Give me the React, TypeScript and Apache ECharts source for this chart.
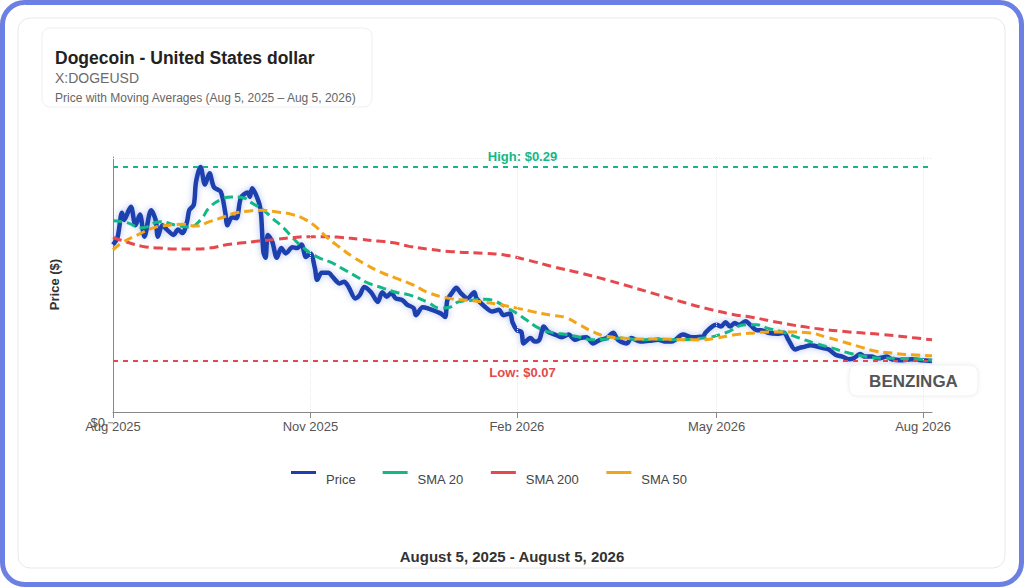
import { useEffect, useRef } from "react"
import * as echarts from "echarts"

const FONT = "'Liberation Sans', Arial, Helvetica, sans-serif"
const DAY = 86400000
const START = Date.UTC(2025, 7, 5)
const END = Date.UTC(2026, 7, 5)

// [days since Aug 5, 2025, USD]
const price: [number, number][] = [
  [0, 0.202], [2, 0.21], [4, 0.238], [5, 0.23], [7, 0.241], [8, 0.245], [10, 0.224], [12, 0.236],
  [14, 0.211], [17, 0.241], [19, 0.23], [20, 0.211], [22, 0.224], [24, 0.219], [27, 0.213], [29, 0.219],
  [31, 0.215], [33, 0.228], [34, 0.241], [36, 0.247], [37, 0.273], [39, 0.29], [41, 0.27], [43, 0.283],
  [45, 0.267], [48, 0.262], [50, 0.239], [51, 0.224], [53, 0.233], [55, 0.232], [57, 0.255], [60, 0.261],
  [61, 0.256], [62, 0.266], [65, 0.25], [66, 0.236], [67, 0.194], [68, 0.187], [69, 0.213], [71, 0.205],
  [73, 0.187], [75, 0.198], [77, 0.192], [80, 0.199], [82, 0.198], [84, 0.202], [86, 0.188], [88, 0.192],
  [90, 0.175], [91, 0.162], [93, 0.17], [96, 0.17], [98, 0.165], [101, 0.158], [103, 0.16], [105, 0.154],
  [108, 0.141], [110, 0.145], [112, 0.154], [115, 0.148], [118, 0.137], [120, 0.148], [122, 0.143], [124, 0.147],
  [126, 0.141], [129, 0.139], [131, 0.134], [134, 0.13], [135, 0.122], [138, 0.131], [140, 0.13], [146, 0.124],
  [148, 0.12], [149, 0.139], [151, 0.147], [153, 0.153], [155, 0.147], [158, 0.141], [161, 0.148], [162, 0.141],
  [166, 0.131], [169, 0.126], [172, 0.128], [174, 0.122], [177, 0.124], [178, 0.114], [180, 0.105], [182, 0.103],
  [183, 0.09], [186, 0.096], [188, 0.092], [190, 0.094], [192, 0.109], [194, 0.103], [197, 0.1], [200, 0.097],
  [203, 0.1], [206, 0.094], [208, 0.096], [211, 0.097], [214, 0.09], [217, 0.094], [220, 0.096], [223, 0.102],
  [225, 0.094], [229, 0.09], [231, 0.096], [235, 0.092], [239, 0.093], [243, 0.094], [246, 0.092], [249, 0.092],
  [254, 0.1], [258, 0.097], [263, 0.098], [264, 0.102], [267, 0.109], [269, 0.111], [271, 0.109], [273, 0.114],
  [275, 0.109], [277, 0.113], [279, 0.111], [282, 0.115], [284, 0.111], [287, 0.105], [289, 0.105], [292, 0.102],
  [296, 0.101], [299, 0.102], [301, 0.094], [304, 0.083], [306, 0.085], [308, 0.086], [311, 0.088], [313, 0.087],
  [316, 0.085], [319, 0.083], [322, 0.077], [325, 0.075], [328, 0.072], [330, 0.073], [333, 0.078], [335, 0.075],
  [338, 0.075], [341, 0.073], [345, 0.075], [347, 0.072], [352, 0.071], [356, 0.072], [360, 0.071], [365, 0.07],
]

const sma20: [number, number][] = [
  [0, 0.229], [6, 0.227], [13, 0.221], [21, 0.228], [28, 0.224], [34, 0.222], [39, 0.23], [43, 0.244],
  [48, 0.253], [53, 0.256], [58, 0.255], [62, 0.249], [67, 0.241], [71, 0.232], [76, 0.221], [80, 0.21],
  [85, 0.198], [91, 0.188], [97, 0.182], [102, 0.175], [109, 0.165], [114, 0.158], [120, 0.153], [126, 0.148],
  [132, 0.145], [140, 0.137], [146, 0.13], [150, 0.131], [154, 0.137], [160, 0.139], [166, 0.14], [171, 0.137],
  [175, 0.131], [180, 0.124], [184, 0.117], [190, 0.107], [196, 0.102], [202, 0.1], [208, 0.097], [214, 0.094],
  [220, 0.095], [227, 0.096], [235, 0.094], [242, 0.095], [249, 0.094], [263, 0.096], [273, 0.102], [282, 0.111],
  [287, 0.111], [292, 0.107], [298, 0.103], [306, 0.096], [313, 0.09], [320, 0.085], [328, 0.079], [336, 0.075],
  [343, 0.073], [350, 0.073], [358, 0.072], [365, 0.071],
]

const sma50: [number, number][] = [
  [0, 0.196], [4, 0.204], [11, 0.213], [18, 0.221], [25, 0.224], [31, 0.225], [37, 0.223], [43, 0.228],
  [49, 0.233], [55, 0.238], [61, 0.24], [65, 0.241], [73, 0.239], [80, 0.236], [86, 0.23], [91, 0.221],
  [95, 0.211], [101, 0.199], [107, 0.188], [113, 0.179], [119, 0.171], [126, 0.164], [134, 0.156], [140, 0.148],
  [150, 0.141], [158, 0.139], [165, 0.137], [172, 0.134], [180, 0.13], [187, 0.126], [195, 0.122], [202, 0.119],
  [208, 0.111], [214, 0.103], [220, 0.098], [227, 0.096], [235, 0.095], [242, 0.095], [261, 0.094], [269, 0.096],
  [278, 0.1], [287, 0.102], [292, 0.103], [301, 0.103], [310, 0.102], [318, 0.097], [325, 0.092], [333, 0.086],
  [340, 0.081], [347, 0.079], [356, 0.077], [365, 0.076],
]

const sma200: [number, number][] = [
  [0, 0.21], [6, 0.205], [13, 0.2], [21, 0.198], [28, 0.197], [36, 0.197], [43, 0.198], [51, 0.202],
  [58, 0.204], [65, 0.206], [73, 0.208], [80, 0.21], [88, 0.211], [95, 0.211], [102, 0.21], [110, 0.208],
  [118, 0.206], [125, 0.204], [132, 0.2], [140, 0.197], [151, 0.194], [166, 0.192], [175, 0.19], [184, 0.185],
  [196, 0.177], [208, 0.17], [220, 0.162], [231, 0.154], [243, 0.145], [255, 0.136], [267, 0.128], [278, 0.122],
  [284, 0.12], [298, 0.113], [313, 0.107], [328, 0.103], [343, 0.1], [358, 0.096], [365, 0.094],
]

const tickDates = ["2025-08-05", "2025-11-01", "2026-02-01", "2026-05-01", "2026-08-01"]
const MONTHS = ["Jan", "Feb", "Mar", "Apr", "May", "Jun", "Jul", "Aug", "Sep", "Oct", "Nov", "Dec"]
const legendNames = ["Price", "SMA 20", "SMA 200", "SMA 50"]

const Y_MIN = 0.0122
const Y_MAX = 0.3013

const BLUE = "#1f3fae"
const GREEN = "#12b886"
const RED = "#e5484d"
const ORANGE = "#f2a516"

const toTime = (rows: [number, number][]) => rows.map(([d, v]) => [START + d * DAY, v])

export default function App() {
  const chartRef = useRef<HTMLDivElement>(null)

  useEffect(() => {
    if (!chartRef.current) return
    const chart = echarts.init(chartRef.current, null, { renderer: "svg" })

    const values = price.map((p) => p[1])
    const high = Math.max(...values)
    const low = Math.min(...values)
    const ticks = tickDates.map((d) => Date.parse(d))

    const faint = { color: "#ececec", type: "dotted" as const, width: 1 }

    const smaSeries = (name: string, rows: [number, number][], color: string) => ({
      name,
      type: "line" as const,
      data: toTime(rows),
      showSymbol: false,
      symbol: "none",
      smooth: 0.5,
      itemStyle: { color },
      lineStyle: { color, width: 3, type: [9, 5] },
      z: 3,
    })

    const graphic: any[] = [
      {
        id: "frame",
        type: "rect",
        z: -20,
        shape: { x: 2.5, y: 2.5, width: 1019, height: 582, r: 22 },
        style: { fill: "#fff", stroke: "#6c7fe3", lineWidth: 5 },
      },
      {
        id: "card",
        type: "rect",
        z: -10,
        shape: { x: 18, y: 18, width: 987, height: 550, r: 12 },
        style: { fill: "#fff", stroke: "#e9e9ec", lineWidth: 1 },
      },
      {
        id: "titleBox",
        type: "rect",
        z: -5,
        shape: { x: 42, y: 28, width: 330, height: 79, r: 8 },
        style: { fill: "#fff", stroke: "#efeff2", lineWidth: 1 },
      },
      {
        id: "title",
        type: "text",
        x: 55,
        y: 57.5,
        style: { text: "Dogecoin - United States dollar", font: `bold 17.5px ${FONT}`, fill: "#222", verticalAlign: "middle" },
      },
      {
        id: "ticker",
        type: "text",
        x: 55,
        y: 77.5,
        style: { text: "X:DOGEUSD", font: `14px ${FONT}`, fill: "#6b6b6b", verticalAlign: "middle" },
      },
      {
        id: "subtitle",
        type: "text",
        x: 55,
        y: 98,
        style: { text: "Price with Moving Averages (Aug 5, 2025 \u2013 Aug 5, 2026)", font: `12px ${FONT}`, fill: "#666", verticalAlign: "middle" },
      },
      {
        id: "brandBox",
        type: "rect",
        z: 5,
        shape: { x: 849, y: 365, width: 129, height: 31, r: 8 },
        style: { fill: "#fff", stroke: "#f0f0f0", lineWidth: 1, shadowBlur: 4, shadowColor: "rgba(0,0,0,0.06)" },
      },
      {
        id: "brand",
        type: "text",
        z: 6,
        x: 913.5,
        y: 381,
        style: { text: "BENZINGA", font: `bold 17px ${FONT}`, fill: "#555", align: "center", verticalAlign: "middle" },
      },
      {
        id: "range",
        type: "text",
        x: 512,
        y: 556,
        style: { text: "August 5, 2025 - August 5, 2026", font: `bold 15px ${FONT}`, fill: "#333", align: "center", verticalAlign: "middle" },
      },
    ]

    chart.setOption({
      animation: false,
      backgroundColor: "#fff",
      textStyle: { fontFamily: FONT },
      grid: { left: 113, right: 92, top: 157, bottom: 175 },
      legend: {
        data: legendNames,
        left: 291,
        top: 471,
        padding: 0,
        icon: "rect",
        itemWidth: 25,
        itemHeight: 3,
        itemGap: 27,
        selectedMode: false,
        formatter: (name: string) => `{t|${name}}`,
        textStyle: {
          color: "#444",
          fontSize: 13,
          fontFamily: FONT,
          rich: { t: { color: "#444", fontSize: 13, fontFamily: FONT, padding: [14, 0, 0, 5] } },
        },
      },
      xAxis: {
        type: "value",
        min: START,
        max: END,
        axisLine: { lineStyle: { color: "#888", width: 1 } },
        axisTick: { customValues: ticks, length: 6, lineStyle: { color: "#888" } },
        axisLabel: {
          customValues: ticks,
          color: "#555",
          fontSize: 13,
          fontFamily: FONT,
          margin: 8,
          formatter: (v: number) => {
            const d = new Date(v)
            return `${MONTHS[d.getUTCMonth()]} ${d.getUTCFullYear()}`
          },
        },
        splitLine: { show: false },
      },
      yAxis: {
        type: "value",
        min: Y_MIN,
        max: Y_MAX,
        name: "Price ($)",
        nameLocation: "middle",
        nameGap: 52,
        nameTextStyle: { color: "#333", fontSize: 13, fontWeight: "bold", fontFamily: FONT },
        axisLine: { show: true, lineStyle: { color: "#888", width: 1 } },
        axisTick: { show: false },
        axisLabel: { show: false },
        splitLine: { show: false },
      },
      series: [
        {
          name: "Price",
          type: "line",
          data: toTime(price),
          showSymbol: false,
          symbol: "none",
          smooth: 0.3,
          itemStyle: { color: BLUE },
          lineStyle: { color: BLUE, width: 4.5, shadowBlur: 6, shadowColor: "rgba(40,80,210,0.35)" },
          z: 2,
          markLine: {
            silent: true,
            symbol: ["none", "none"],
            data: [
              ...ticks.slice(1).map((t) => ({ xAxis: t, lineStyle: faint, label: { show: false } })),
              { yAxis: Y_MAX, lineStyle: faint, label: { show: false } },
              {
                yAxis: high,
                lineStyle: { color: GREEN, type: [5, 5], width: 2 },
                label: {
                  position: "insideMiddleTop",
                  formatter: `High: $${high.toFixed(2)}`,
                  color: GREEN,
                  fontWeight: "bold",
                  fontSize: 13,
                  fontFamily: FONT,
                  distance: 4,
                },
              },
              {
                yAxis: low,
                lineStyle: { color: RED, type: [5, 5], width: 2 },
                label: {
                  position: "insideMiddleBottom",
                  formatter: `Low: $${low.toFixed(2)}`,
                  color: RED,
                  fontWeight: "bold",
                  fontSize: 13,
                  fontFamily: FONT,
                  distance: 5,
                },
              },
            ],
          },
        },
        smaSeries("SMA 20", sma20, GREEN),
        smaSeries("SMA 200", sma200, RED),
        smaSeries("SMA 50", sma50, ORANGE),
      ],
      graphic,
    })

    // the $0 tick sits where the y scale puts zero, just under the plot floor
    const zeroY = chart.convertToPixel({ yAxisIndex: 0 }, 0) as number
    chart.setOption({
      graphic: [
        ...graphic,
        {
          id: "zeroTick",
          type: "line",
          shape: { x1: 108, y1: zeroY, x2: 113, y2: zeroY },
          style: { stroke: "#888", lineWidth: 1 },
        },
        {
          id: "zeroLabel",
          type: "text",
          x: 105,
          y: zeroY,
          style: { text: "$0", font: `13px ${FONT}`, fill: "#555", align: "right", verticalAlign: "middle" },
        },
      ],
    })

    return () => {
      chart.dispose()
    }
  }, [])

  return <div ref={chartRef} style={{ position: "fixed", left: 0, top: 0, width: 1024, height: 587 }} />
}
